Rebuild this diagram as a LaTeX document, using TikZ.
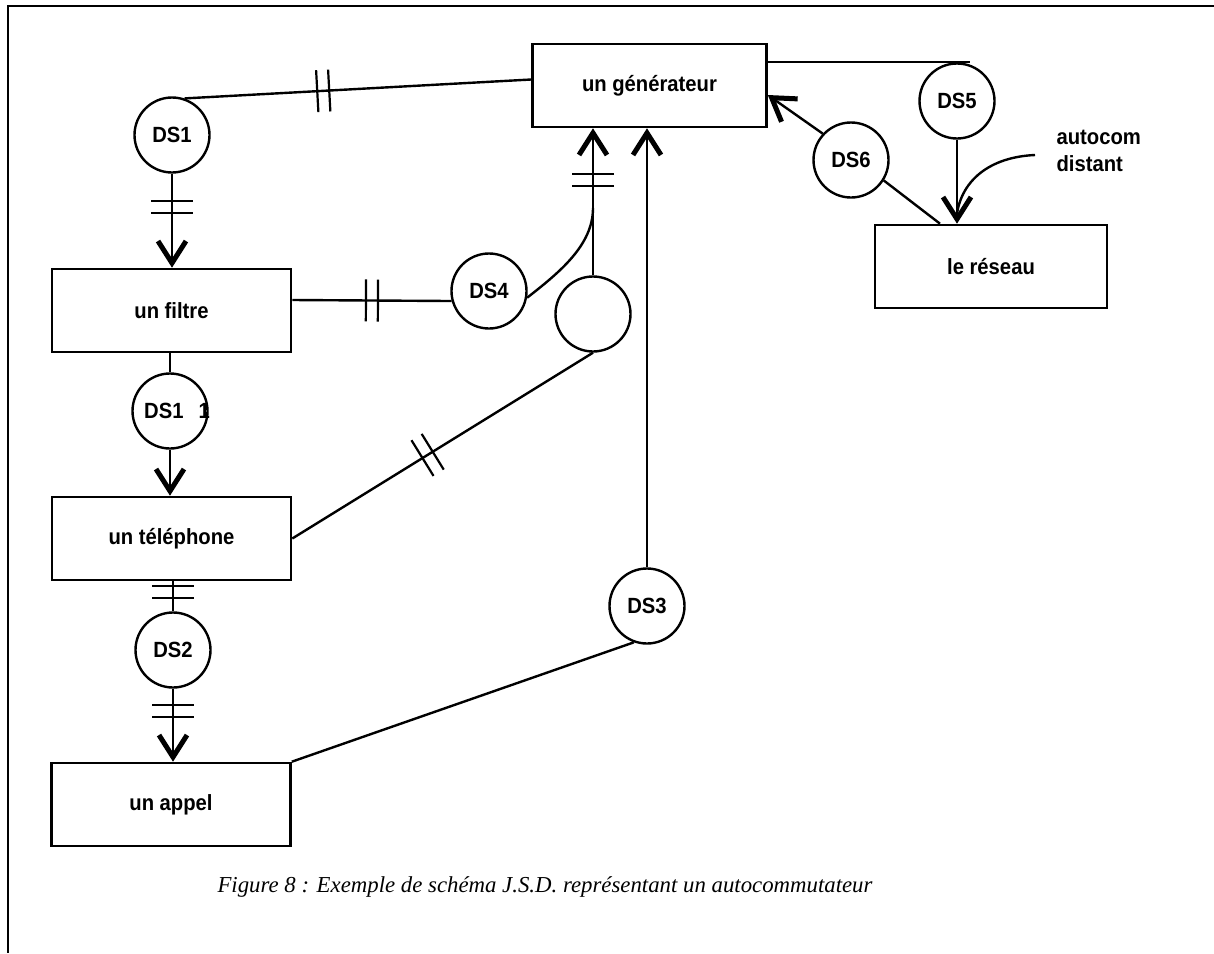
\documentclass[tikz,border=0pt]{standalone}
\usepackage{fontspec}
\setmainfont{Liberation Sans}[FakeStretch=0.92]
\newfontfamily\capfont{Liberation Serif}
\usetikzlibrary{arrows.meta,decorations.markings,calc}
\begin{document}
\begin{tikzpicture}[x=1pt,y=-1pt,
  every node/.style={font=\bfseries\fontsize{22}{27}\selectfont},
  box/.style={draw,line width=2.6pt,minimum height=83pt,inner sep=0pt},
  dsc/.style={draw,circle,line width=2.4pt,minimum size=75pt,inner sep=0pt},
  conn/.style={line width=2.4pt},
  arr/.style={conn,-{Straight Barb[length=22pt,width=28pt,line width=5pt]}},
  dblbar/.style={postaction={decorate,decoration={markings,
     mark=at position #1 with {\draw[-,line width=2.2pt] (-6pt,-21pt)--(-6pt,21pt) (6pt,-21pt)--(6pt,21pt);}}}}]
\useasboundingbox (0,0) rectangle (1214,953);
\draw[line width=2.4pt] (1214,6) -- (8,6) -- (8,953);
% boxes
\node[box,minimum width=234pt] (gen) at (649.5,85.5) {un générateur};
\node[box,minimum width=239pt] (filtre) at (171.5,310.5) {un filtre};
\node[box,minimum width=239pt] (tel) at (171.5,538.5) {un téléphone};
\node[box,minimum width=239pt] (appel) at (171,804.5) {un appel};
\node[box,minimum width=232pt] (reseau) at (991,266.5) {le réseau};
% circles
\node[dsc] (ds1) at (172,135) {DS1};
\node[dsc] (ds11) at (170,411) {};
\node (ds11t) at (177,411) {DS1\hspace{15pt}1};
\node[dsc] (ds2) at (173,650) {DS2};
\node[dsc] (ds3) at (647,606) {DS3};
\node[dsc] (ds4) at (489,291) {DS4};
\node[dsc] (dsx) at (593,314) {};
\node[dsc] (ds5) at (957,101) {DS5};
\node[dsc] (ds6) at (851,160) {DS6};
\node[align=left,anchor=west] (ac) at (1053,151) {autocom\\distant};
\node (cap) at (545,887) {\capfont\mdseries\itshape\fontsize{22.8}{26}\selectfont Figure 8 : Exemple de schéma J.S.D. représentant un autocommutateur};
% connectors
\coordinate (j) at (593,208);
\coordinate (g5) at (970,62);
\draw[conn,dblbar=0.4] (ds1.71) -- ([yshift=6pt]gen.west);
\draw[arr,dblbar=0.35] (ds1.south) -- (ds1.south |- filtre.north);
\draw[conn,dblbar=0.5] ([yshift=10.5pt]filtre.east) -- (ds4.195);
\draw[arr,dblbar=0.65] (dsx.north) -- (dsx.north |- gen.south);
\draw[conn] (ds4.-10) .. controls (560,272) and (593,245) .. (j);
\draw[arr] (ds3.north) -- (ds3.north |- gen.south);
\draw[conn,dblbar=0.45] (tel.east) -- (dsx.south);
\draw[conn] (ds11.north |- filtre.south) -- (ds11.north);
\draw[arr] (ds11.south) -- (ds11.south |- tel.north);
\draw[conn,dblbar=0.36] (ds2.north |- tel.south) -- (ds2.north);
\draw[arr,dblbar=0.31] (ds2.south) -- (ds2.south |- appel.north);
\draw[conn] (appel.north east) -- (ds3.250);
\draw[conn] ([yshift=23.5pt]gen.east) -- (g5);
\draw[arr] (ds6.137) -- ([yshift=-9.5pt]gen.east);
\draw[conn] (ds6.-32) -- ([xshift=-51pt]reseau.north);
\draw[arr] (ds5.south) -- (ds5.south |- reseau.north);
\draw[conn] ([xshift=-18pt,yshift=-4pt]ac.west) .. controls (990,157) and (962,180) .. ([yshift=10pt]ds5.south |- reseau.north);
\end{tikzpicture}
\end{document}
